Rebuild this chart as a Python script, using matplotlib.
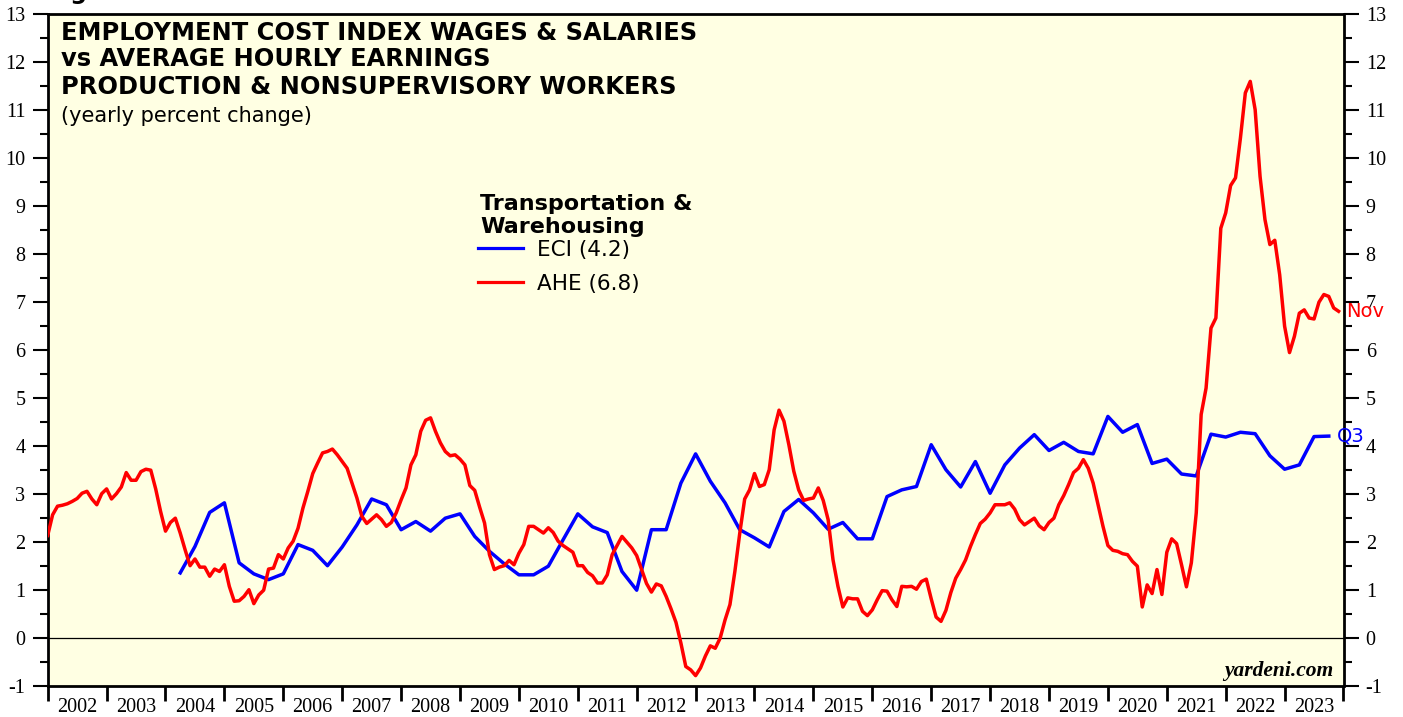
import numpy as np
import pandas as pd
import matplotlib
matplotlib.use("Agg")
import matplotlib.pyplot as plt
from matplotlib.ticker import FixedLocator, NullFormatter

# ---------------- data ----------------
eci_start, eci_end = "2004Q1", "2023Q3"
eci_values = [
    1.35, 1.90, 2.61,
    2.81, 1.56, 1.33, 1.21,
    1.33, 1.94, 1.82, 1.50,
    1.89, 2.35, 2.89, 2.77,
    2.25, 2.42, 2.22, 2.49,
    2.58, 2.11, 1.80, 1.54,
    1.31, 1.31, 1.49, 2.04,
    2.58, 2.31, 2.19, 1.38,
    0.99, 2.25, 2.25, 3.22,
    3.83, 3.26, 2.81, 2.25,
    2.08, 1.89, 2.63, 2.88,
    2.60, 2.26, 2.40, 2.06,
    2.06, 2.94, 3.08, 3.15,
    4.02, 3.50, 3.14, 3.67,
    3.01, 3.60, 3.95, 4.23,
    3.90, 4.07, 3.88, 3.83,
    4.61, 4.28, 4.44, 3.63,
    3.72, 3.41, 3.37, 4.24,
    4.18, 4.28, 4.25, 3.79,
    3.51, 3.60, 4.19, 4.20,
]

ahe_start, ahe_end = "2001-12", "2023-11"
ahe_values = [
    2.13, 2.56, 2.74, 2.76, 2.79, 2.84, 2.90, 3.01, 3.05, 2.89, 2.77, 3.00,
    3.10, 2.89, 3.00, 3.14, 3.44, 3.28, 3.28, 3.46, 3.51, 3.49, 3.10, 2.63,
    2.22, 2.40, 2.49, 2.18, 1.83, 1.50, 1.64, 1.47, 1.47, 1.28, 1.43, 1.38,
    1.52, 1.07, 0.76, 0.77, 0.86, 1.00, 0.71, 0.89, 0.99, 1.43, 1.45, 1.73,
    1.64, 1.87, 2.01, 2.28, 2.70, 3.05, 3.42, 3.64, 3.85, 3.88, 3.93, 3.81,
    3.67, 3.53, 3.22, 2.91, 2.53, 2.38, 2.47, 2.56, 2.46, 2.32, 2.40, 2.60,
    2.87, 3.12, 3.60, 3.81, 4.30, 4.53, 4.58, 4.30, 4.06, 3.88, 3.79, 3.81,
    3.72, 3.60, 3.17, 3.07, 2.72, 2.39, 1.73, 1.42, 1.47, 1.50, 1.61, 1.52,
    1.76, 1.94, 2.32, 2.32, 2.25, 2.18, 2.29, 2.19, 2.01, 1.92, 1.85, 1.78,
    1.50, 1.50, 1.36, 1.29, 1.14, 1.14, 1.31, 1.73, 1.92, 2.11, 1.99, 1.87,
    1.71, 1.42, 1.13, 0.95, 1.12, 1.08, 0.86, 0.60, 0.32, -0.11, -0.60, -0.67,
    -0.79, -0.63, -0.38, -0.17, -0.22, -0.01, 0.37, 0.69, 1.38, 2.18, 2.89, 3.08,
    3.42, 3.15, 3.19, 3.50, 4.33, 4.74, 4.51, 4.02, 3.47, 3.08, 2.86, 2.89,
    2.91, 3.12, 2.86, 2.46, 1.62, 1.07, 0.64, 0.83, 0.81, 0.81, 0.55, 0.46,
    0.58, 0.79, 0.98, 0.97, 0.79, 0.65, 1.07, 1.06, 1.07, 1.01, 1.17, 1.22,
    0.81, 0.43, 0.34, 0.57, 0.94, 1.24, 1.42, 1.62, 1.90, 2.15, 2.38, 2.47,
    2.60, 2.77, 2.77, 2.77, 2.81, 2.68, 2.46, 2.35, 2.42, 2.49, 2.33, 2.25,
    2.40, 2.49, 2.77, 2.96, 3.19, 3.44, 3.53, 3.71, 3.53, 3.22, 2.77, 2.32,
    1.92, 1.82, 1.80, 1.75, 1.73, 1.59, 1.49, 0.64, 1.10, 0.92, 1.42, 0.90,
    1.78, 2.06, 1.96, 1.52, 1.06, 1.56, 2.60, 4.65, 5.20, 6.45, 6.66, 8.53,
    8.85, 9.42, 9.58, 10.41, 11.35, 11.59, 11.00, 9.61, 8.71, 8.19, 8.28, 7.56,
    6.49, 5.94, 6.28, 6.76, 6.83, 6.66, 6.64, 6.99, 7.15, 7.11, 6.87, 6.80,
]

series_names = ["ECI (4.2)", "AHE (6.8)"]
end_labels = ["Q3", "Nov"]
year_labels = [str(y) for y in range(2002, 2024)]
title_lines = ["EMPLOYMENT COST INDEX WAGES & SALARIES",
               "vs AVERAGE HOURLY EARNINGS",
               "PRODUCTION & NONSUPERVISORY WORKERS"]
subtitle = "(yearly percent change)"
legend_heading = "Transportation &\nWarehousing"

# ---------------- x positions (end of period, decimal years) ----------------
eci_per = pd.period_range(eci_start, eci_end, freq="Q")
eci_x = np.array([p.year + p.quarter / 4.0 for p in eci_per])
ahe_per = pd.period_range(ahe_start, ahe_end, freq="M")
ahe_x = np.array([p.year + p.month / 12.0 for p in ahe_per])

# ---------------- figure ----------------
W, H = 1403, 717
fig = plt.figure(figsize=(W / 100, H / 100), dpi=100)
fig.patch.set_facecolor("white")

def fx(px):
    return px / W

def fy(py):
    return 1 - py / H

ax = fig.add_axes([fx(47.7), fy(685.7), fx(1343.5) - fx(47.7), fy(13.7) - fy(685.7)])
ax.set_facecolor("#FFFFE3")
ax.set_xlim(2002, 2024)
ax.set_ylim(-1, 13)

ax.axhline(0, color="black", lw=0.9, zorder=1)

blue = "#0000FF"
red = "#FF0000"
l1, = ax.plot(eci_x, eci_values, color=blue, lw=2.5, solid_joinstyle="round", zorder=3)
l2, = ax.plot(ahe_x, ahe_values, color=red, lw=2.5, solid_joinstyle="round", zorder=4)

for sp in ax.spines.values():
    sp.set_linewidth(2.0)
    sp.set_color("black")

serif = "Liberation Serif"
# x axis: ticks at year boundaries, labels centred in the year
ax.xaxis.set_major_locator(FixedLocator(np.arange(2002, 2025)))
ax.xaxis.set_major_formatter(NullFormatter())
ax.xaxis.set_minor_locator(FixedLocator(np.arange(2002.5, 2024, 1.0)))
ax.set_xticklabels(year_labels, minor=True, fontfamily=serif, fontsize=14.5)
ax.tick_params(axis="x", which="major", direction="out", length=10.5, width=2.0,
               bottom=True, top=False)
ax.tick_params(axis="x", which="minor", length=0, pad=8.5, bottom=True, top=False)

# y axis: both sides
ax.yaxis.set_major_locator(FixedLocator(np.arange(-1, 14)))
ax.yaxis.set_minor_locator(FixedLocator(np.arange(-0.5, 13, 1.0)))
ax.tick_params(axis="y", which="both", left=True, right=True,
               labelleft=True, labelright=True, direction="out")
ax.tick_params(axis="y", which="major", length=11, width=1.5, pad=5)
ax.tick_params(axis="y", which="minor", length=5.5, width=1.5)
ax.yaxis.set_major_formatter(matplotlib.ticker.FuncFormatter(lambda v, p: f"{int(round(v))}"))
for t in ax.yaxis.get_major_ticks():
    t.label1.set_fontfamily(serif); t.label1.set_fontsize(14.5)
    t.label2.set_fontfamily(serif); t.label2.set_fontsize(14.5)

# ---------------- texts ----------------
sans = ["DejaVu Sans"]
for i, line in enumerate(title_lines):
    fig.text(fx(61), fy(39.5 + 27 * i), line, fontfamily=sans, fontweight="bold",
             fontsize=17.4, va="baseline", ha="left", color="black")
fig.text(fx(61), fy(121.7), subtitle, fontfamily=sans, fontsize=15,
         va="baseline", ha="left", color="black")

# cut-off figure caption at the very top (only descenders visible)
fig.text(fx(47), fy(-1.5), "Figure", fontfamily=sans, fontweight="bold",
         fontsize=17, va="baseline", ha="left", color="black")

fig.text(fx(480), fy(233.3), legend_heading, fontfamily=sans, fontweight="bold",
         fontsize=16, va="baseline", ha="left", linespacing=1.22, color="black")

leg = ax.legend([l1, l2], series_names, loc="upper left",
                bbox_to_anchor=(fx(478), fy(240)), bbox_transform=fig.transFigure,
                frameon=False, borderpad=0, borderaxespad=0,
                handlelength=2.1, handletextpad=0.65, labelspacing=0.64,
                prop={"family": "DejaVu Sans", "size": 15.5})
for h in leg.get_lines():
    h.set_linewidth(2.3)

ax.text(0.992, (685.7 - 671) / 672.0, "yardeni.com", transform=ax.transAxes,
        ha="right", va="center", fontfamily=serif, fontweight="bold",
        fontstyle="italic", fontsize=15.5, color="black")

ax.annotate(end_labels[0], xy=(eci_x[-1], eci_values[-1]), xytext=(5.5, 0),
            textcoords="offset points", ha="left", va="center", color=blue,
            fontfamily=sans, fontsize=14, annotation_clip=False, zorder=6)
ax.annotate(end_labels[1], xy=(ahe_x[-1], ahe_values[-1]), xytext=(5.5, 0),
            textcoords="offset points", ha="left", va="center", color=red,
            fontfamily=sans, fontsize=14, annotation_clip=False, zorder=6)

fig.savefig("out.png", dpi=100, facecolor="white")
